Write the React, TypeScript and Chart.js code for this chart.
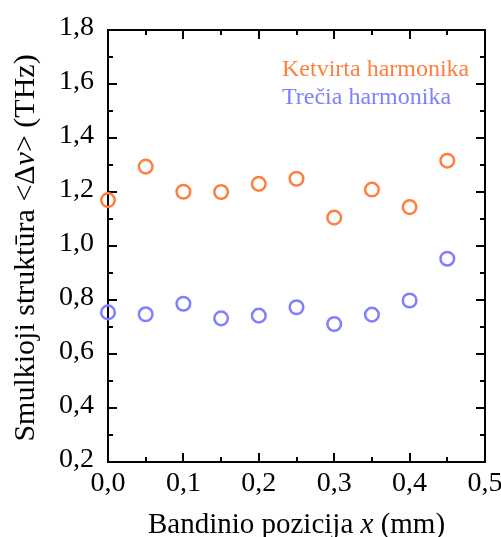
import { useEffect, useRef } from "react";
import { Chart, registerables } from "chart.js";

Chart.register(...registerables);

// Sample position x (mm)
const positions = [0, 0.05, 0.1, 0.15, 0.2, 0.25, 0.3, 0.35, 0.4, 0.45];
// Fine-structure spacing <Δν> (THz)
const ketvirta = [1.17, 1.294, 1.201, 1.2, 1.23, 1.249, 1.105, 1.209, 1.144, 1.316];
const trecia = [0.754, 0.747, 0.786, 0.732, 0.742, 0.773, 0.711, 0.746, 0.798, 0.953];

const seriesLabels = ["Ketvirta harmonika", "Trečia harmonika"];
const seriesColors = ["#FF7F3F", "#7F7FFF"];

const xTicks = [0, 0.1, 0.2, 0.3, 0.4, 0.5];
const xMinorTicks = [0.05, 0.15, 0.25, 0.35, 0.45];
const yTicks = [0.2, 0.4, 0.6, 0.8, 1.0, 1.2, 1.4, 1.6, 1.8];
const yMinorTicks = [0.3, 0.5, 0.7, 0.9, 1.1, 1.3, 1.5, 1.7];

const SERIF = '"Liberation Serif", "Times New Roman", serif';

const fmt = (v: number) => v.toFixed(1).replace(".", ",");

type Seg = { t: string; italic?: boolean };

function drawRich(ctx: CanvasRenderingContext2D, segs: Seg[], size: number, cx: number, baseline: number) {
  const fontOf = (s: Seg) => `${s.italic ? "italic " : ""}${size}px ${SERIF}`;
  let total = 0;
  const widths = segs.map((s) => {
    ctx.font = fontOf(s);
    const w = ctx.measureText(s.t).width;
    total += w;
    return w;
  });
  let x = cx - total / 2;
  ctx.textAlign = "left";
  ctx.textBaseline = "alphabetic";
  segs.forEach((s, i) => {
    ctx.font = fontOf(s);
    ctx.fillText(s.t, x, baseline);
    x += widths[i];
  });
}

const frameTicks = {
  id: "frameTicks",
  beforeDatasetsDraw(chart: any) {
    const ctx = chart.ctx as CanvasRenderingContext2D;
    const { top, bottom, left, right } = chart.chartArea;
    const xs = chart.scales.x;
    const ys = chart.scales.y;
    ctx.save();
    ctx.strokeStyle = "#000";
    ctx.lineWidth = 2;
    const major = 9;
    const minor = 5;
    ctx.beginPath();
    const vx = (v: number, len: number) => {
      const p = Math.round(xs.getPixelForValue(v));
      ctx.moveTo(p, bottom);
      ctx.lineTo(p, bottom - len);
      ctx.moveTo(p, top);
      ctx.lineTo(p, top + len);
    };
    const vy = (v: number, len: number) => {
      const p = Math.round(ys.getPixelForValue(v));
      ctx.moveTo(left, p);
      ctx.lineTo(left + len, p);
      ctx.moveTo(right, p);
      ctx.lineTo(right - len, p);
    };
    xTicks.forEach((v) => vx(v, major));
    xMinorTicks.forEach((v) => vx(v, minor));
    yTicks.forEach((v) => vy(v, major));
    yMinorTicks.forEach((v) => vy(v, minor));
    ctx.stroke();
    ctx.restore();
  },
  afterDraw(chart: any) {
    const ctx = chart.ctx as CanvasRenderingContext2D;
    const { top, bottom, left, right } = chart.chartArea;
    ctx.save();
    ctx.fillStyle = "#000";
    // x-axis title
    drawRich(
      ctx,
      [{ t: "Bandinio pozicija " }, { t: "x", italic: true }, { t: " (mm)" }],
      29,
      (left + right) / 2,
      bottom + 71
    );
    // y-axis title (rotated)
    ctx.save();
    ctx.translate(34, (top + bottom) / 2 + 2);
    ctx.rotate(-Math.PI / 2);
    drawRich(
      ctx,
      [{ t: "Smulkioji struktūra <Δ" }, { t: "ν", italic: true }, { t: "> (THz)" }],
      30,
      0,
      0
    );
    ctx.restore();
    // series labels
    ctx.font = `24px ${SERIF}`;
    ctx.textAlign = "left";
    ctx.textBaseline = "alphabetic";
    chart.data.datasets.forEach((ds: any, i: number) => {
      ctx.fillStyle = ds.borderColor;
      ctx.fillText(ds.label, 282, top + 46 + i * 27.5);
    });
    ctx.restore();
  },
};

export default function App() {
  const ref = useRef<HTMLCanvasElement | null>(null);

  useEffect(() => {
    if (!ref.current) return;
    const mkData = (vals: number[]) => positions.map((x, i) => ({ x, y: vals[i] }));
    const pointStyle = (i: number) => ({
      label: seriesLabels[i],
      borderColor: seriesColors[i],
      backgroundColor: "rgba(0,0,0,0)",
      pointBackgroundColor: "rgba(0,0,0,0)",
      pointBorderColor: seriesColors[i],
      pointRadius: 6.8,
      pointHoverRadius: 6.8,
      pointBorderWidth: 2.5,
      showLine: false,
      clip: false as any,
    });
    const noPad = (s: any) => {
      s.paddingLeft = 0;
      s.paddingRight = 0;
      s.paddingTop = 0;
      s.paddingBottom = 0;
    };
    const border = { display: true, color: "#000", width: 2 };
    const chart = new Chart(ref.current, {
      type: "scatter",
      data: {
        datasets: [
          { ...pointStyle(0), data: mkData(ketvirta) },
          { ...pointStyle(1), data: mkData(trecia) },
        ],
      },
      options: {
        responsive: false,
        animation: false,
        events: [],
        layout: { padding: 0 },
        plugins: { legend: { display: false }, tooltip: { enabled: false }, title: { display: false } },
        scales: {
          x: {
            type: "linear",
            position: "bottom",
            min: 0,
            max: 0.5,
            afterBuildTicks: (s: any) => {
              s.ticks = xTicks.map((value) => ({ value }));
            },
            afterFit: (s: any) => {
              s.height = 75;
              noPad(s);
            },
            grid: { display: false, drawTicks: false },
            border,
            ticks: {
              padding: 5,
              autoSkip: false,
              maxRotation: 0,
              color: "#000",
              font: { family: SERIF, size: 28 },
              callback: (v: any) => fmt(Number(v)),
            },
          },
          x2: {
            type: "linear",
            axis: "x",
            position: "top",
            min: 0,
            max: 0.5,
            afterFit: (s: any) => {
              s.height = 30;
              noPad(s);
            },
            grid: { display: false, drawTicks: false },
            border,
            ticks: { display: false },
          },
          y: {
            type: "linear",
            position: "left",
            min: 0.2,
            max: 1.8,
            afterBuildTicks: (s: any) => {
              s.ticks = yTicks.map((value) => ({ value }));
            },
            afterFit: (s: any) => {
              s.width = 108;
              noPad(s);
            },
            grid: { display: false, drawTicks: false },
            border,
            ticks: {
              padding: 14,
              autoSkip: false,
              labelOffset: -2,
              color: "#000",
              font: { family: SERIF, size: 28 },
              callback: (v: any) => fmt(Number(v)),
            },
          },
          y2: {
            type: "linear",
            axis: "y",
            position: "right",
            min: 0.2,
            max: 1.8,
            afterFit: (s: any) => {
              s.width = 16;
              noPad(s);
            },
            grid: { display: false, drawTicks: false },
            border,
            ticks: { display: false },
          },
        },
      } as any,
      plugins: [frameTicks],
    });
    return () => chart.destroy();
  }, []);

  return (
    <div style={{ position: "absolute", left: 0, top: 0, width: 501, height: 537, background: "#fff" }}>
      <canvas ref={ref} width={501} height={537} style={{ display: "block" }} />
    </div>
  );
}
